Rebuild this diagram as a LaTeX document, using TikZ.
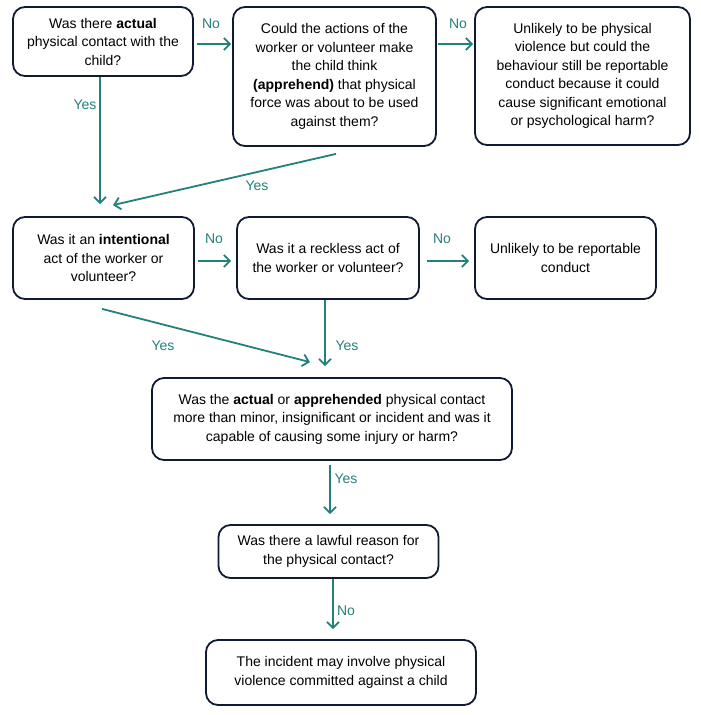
\documentclass[tikz,border=0pt]{standalone}
\usepackage{fontspec}
\setmainfont{Liberation Sans}
\usetikzlibrary{arrows.meta}
\definecolor{boxline}{HTML}{101A33}
\definecolor{teal}{HTML}{23807A}
\tikzset{
  box/.style={draw=boxline, line width=1.8pt, rounded corners=12pt, align=center,
    font=\fontsize{14}{18.5}\selectfont, inner sep=0pt},
  conn/.style={draw=teal, line width=1.8pt, -{Straight Barb[length=6pt,width=12pt,line width=1.8pt]}},
  lab/.style={text=teal, font=\fontsize{14}{16}\selectfont, inner sep=0pt}
}
\begin{document}
\begin{tikzpicture}[x=1pt,y=1pt]
\useasboundingbox (0,0) rectangle (701,-715);
\node[box, minimum width=180pt, minimum height=69pt] (b1) at (103,-41.5)
  {Was there \textbf{actual}\\physical contact with the\\child?};
\node[box, minimum width=203pt, minimum height=139pt] (b2) at (334.5,-76.5)
  {Could the actions of the\\worker or volunteer make\\the child think\\\textbf{(apprehend)} that physical\\force was about to be used\\against them?};
\node[box, minimum width=215pt, minimum height=138pt] (b3) at (582.5,-76)
  {Unlikely to be physical\\violence but could the\\behaviour still be reportable\\conduct because it could\\cause significant emotional\\or psychological harm?};
\node[box, minimum width=181pt, minimum height=82pt] (b4) at (103.5,-258)
  {Was it an \textbf{intentional}\\act of the worker or\\volunteer?};
\node[box, minimum width=182pt, minimum height=82pt] (b5) at (328,-258)
  {Was it a reckless act of\\the worker or volunteer?};
\node[box, minimum width=181pt, minimum height=82pt] (b6) at (565.5,-258)
  {Unlikely to be reportable\\conduct};
\node[box, minimum width=360pt, minimum height=82pt] (b7) at (332,-419)
  {Was the \textbf{actual} or \textbf{apprehended} physical contact\\more than minor, insignificant or incident and was it\\capable of causing some injury or harm?};
\node[box, minimum width=220pt, minimum height=53pt] (b8) at (328.5,-551.5)
  {Was there a lawful reason for\\the physical contact?};
\node[box, minimum width=270pt, minimum height=65pt] (b9) at (341,-672.5)
  {The incident may involve physical\\violence committed against a child};

% connectors
\draw[conn] ([xshift=3pt,yshift=-2.5pt]b1.east) -- ([xshift=-1pt,yshift=32.5pt]b2.west);
\node[lab] (l1) at (211,-24) {No};
\draw[conn] ([xshift=1pt,yshift=32.5pt]b2.east) -- ([xshift=-1pt,yshift=32pt]b3.west);
\node[lab] (l2) at (458,-24) {No};
\draw[conn] ([xshift=-3pt]b1.south) -- ([xshift=-3.5pt,yshift=12pt]b4.north);
\node[lab] (l3) at (85,-105) {Yes};
\draw[conn] ([xshift=1.5pt,yshift=-7pt]b2.south) -- ([xshift=9.5pt,yshift=11pt]b4.north);
\node[lab] (l4) at (257,-186) {Yes};
\draw[conn] ([xshift=3pt,yshift=-3pt]b4.east) -- ([xshift=-5pt,yshift=-3pt]b5.west);
\node[lab] (l5) at (214,-239) {No};
\draw[conn] ([xshift=7pt,yshift=-3pt]b5.east) -- ([xshift=-5pt,yshift=-3pt]b6.west);
\node[lab] (l6) at (442,-239) {No};
\draw[conn] ([xshift=-1.5pt,yshift=-9pt]b4.south) -- ([xshift=-22pt,yshift=15pt]b7.north);
\node[lab] (l7) at (163,-346) {Yes};
\draw[conn] ([xshift=-3pt]b5.south) -- ([xshift=-7pt,yshift=11pt]b7.north);
\node[lab] (l8) at (347,-346) {Yes};
\draw[conn] ([xshift=-2pt,yshift=-4pt]b7.south) -- ([xshift=1.5pt,yshift=10pt]b8.north);
\node[lab] (l9) at (346,-479) {Yes};
\draw[conn] ([xshift=4.5pt]b8.south) -- ([xshift=-8pt,yshift=10pt]b9.north);
\node[lab] (l10) at (346,-611) {No};
\end{tikzpicture}
\end{document}
